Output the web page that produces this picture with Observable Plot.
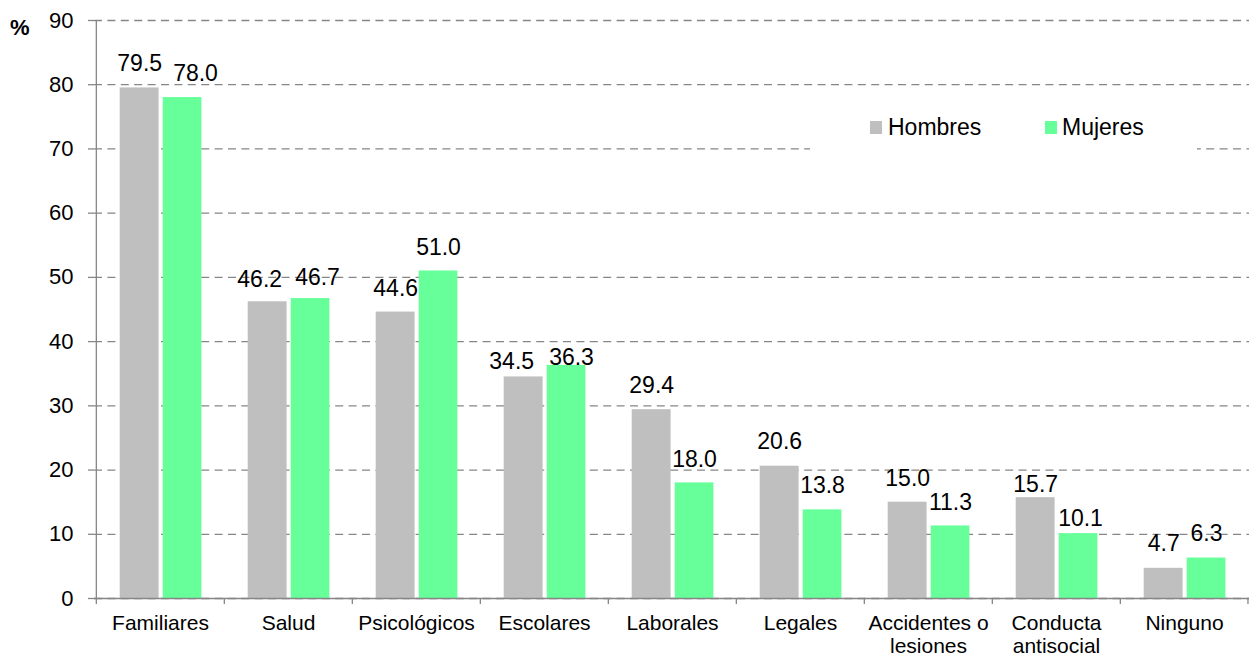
<!DOCTYPE html>
<html><head><meta charset="utf-8">
<script src="https://cdn.jsdelivr.net/npm/d3@7"></script>
<script src="https://cdn.jsdelivr.net/npm/@observablehq/plot@0.6"></script>
<style>
body{margin:0;background:#fff;font-family:"Liberation Sans",Arial,sans-serif;}
#wrap{position:relative;width:1249px;height:657px;}
#pct{position:absolute;left:10px;top:15px;font-weight:bold;font-size:22px;color:#000;}
#legend{position:absolute;left:810px;top:100px;width:387px;height:52px;background:#fff;}
.sw{position:absolute;top:21px;width:12px;height:13px;}
.lab{position:absolute;top:16px;font-size:23px;line-height:23px;color:#000;}
</style>
</head><body>
<div id="wrap">
  <div id="chart"></div>
  <div id="pct">%</div>
  <div id="legend"></div>
</div>
<script>
const categories = ["Familiares","Salud","Psicológicos","Escolares","Laborales","Legales","Accidentes o\nlesiones","Conducta\nantisocial","Ninguno"];
const hombres = [79.5,46.2,44.6,34.5,29.4,20.6,15.0,15.7,4.7];
const mujeres = [78.0,46.7,51.0,36.3,18.0,13.8,11.3,10.1,6.3];
const series = ["Hombres","Mujeres"];
const colors = ["#bfbfbf","#66ff99"];
const yTicks = [0,10,20,30,40,50,60,70,80,90];

// label placement styling (pixel nudges as in the original, per bar)
const labelDxH = [0, -8, 0, -12, 0, 0, 0, 0, 0];
const labelDxM = [13, 7, 0, 5, 0, 0, 0, 2, 0];
const labelGapH = [17, 15, 16.4, 8, 17, 17, 16.4, 6, 17];
const labelGapM = [17, 13.6, 16.3, 0.5, 16.4, 16.5, 16.2, 8, 16.6];

const W = 1249, H = 657, ML = 94, MR = 0, MT = 20, MB = 59;
const step = (W - ML - MR) / categories.length;
const hRows = categories.map((c,i)=>({category:c, value:hombres[i]}));
const mRows = categories.map((c,i)=>({category:c, value:mujeres[i]}));
const axisColor = "#868686";
const hCenter = -20.8, mCenter = 22;

const labelMarks = [];
hRows.forEach((r, i) => labelMarks.push(Plot.text([r], {x: "category", y: "value", text: d => d.value.toFixed(1), dx: hCenter + labelDxH[i], dy: -labelGapH[i], lineAnchor: "bottom", fontSize: 23, fill: "#000"})));
mRows.forEach((r, i) => labelMarks.push(Plot.text([r], {x: "category", y: "value", text: d => d.value.toFixed(1), dx: mCenter + labelDxM[i], dy: -labelGapM[i], lineAnchor: "bottom", fontSize: 23, fill: "#000"})));

const chart = Plot.plot({
  width: W, height: H,
  marginLeft: ML, marginRight: MR, marginTop: MT, marginBottom: MB,
  style: {fontFamily: "'Liberation Sans', Arial, sans-serif", color: "#000", background: "#fff"},
  x: {type: "band", domain: categories, padding: 0, label: null},
  y: {domain: [0, 90], label: null},
  marks: [
    Plot.gridY(yTicks, {stroke: axisColor, strokeOpacity: 1, strokeWidth: 1.3, strokeDasharray: "8,5.4"}),
    Plot.barY(hRows, {x: "category", y: "value", fill: colors[0], insetLeft: 23.7, insetRight: 65.4}),
    Plot.barY(mRows, {x: "category", y: "value", fill: colors[1], insetLeft: 66.7, insetRight: 22.6}),
    Plot.ruleY([0], {stroke: axisColor, strokeWidth: 1.3}),
    Plot.ruleX(categories, {x: d => d, dx: -step/2, y1: 0, y2: 0, insetTop: 6, stroke: axisColor, strokeWidth: 1.3}),
    Plot.ruleX([categories[categories.length-1]], {x: d => d, dx: step/2 - 0.7, y1: 0, y2: 0, insetTop: 6, stroke: axisColor, strokeWidth: 1.3}),
    Plot.ruleX([categories[0]], {x: d => d, dx: -step/2, y1: 0, y2: 90, stroke: axisColor, strokeWidth: 1.3}),
    Plot.axisY(yTicks, {tickSize: 6, tickPadding: 15, fontSize: 22, stroke: axisColor, strokeWidth: 1.3, fill: "#000", label: null}),
    Plot.axisX({tickSize: 0, tickPadding: 16, fontSize: 21, lineHeight: 1.07, fill: "#000", label: null}),
    ...labelMarks
  ]
});
document.getElementById("chart").appendChild(chart);

const legend = document.getElementById("legend");
const swLeft = [60, 235], labLeft = [78, 252];
series.forEach((s, i) => {
  const sw = document.createElement("div");
  sw.className = "sw"; sw.style.left = swLeft[i] + "px"; sw.style.background = colors[i];
  const lb = document.createElement("div");
  lb.className = "lab"; lb.style.left = labLeft[i] + "px"; lb.textContent = s;
  legend.appendChild(sw); legend.appendChild(lb);
});
</script>
</body></html>
